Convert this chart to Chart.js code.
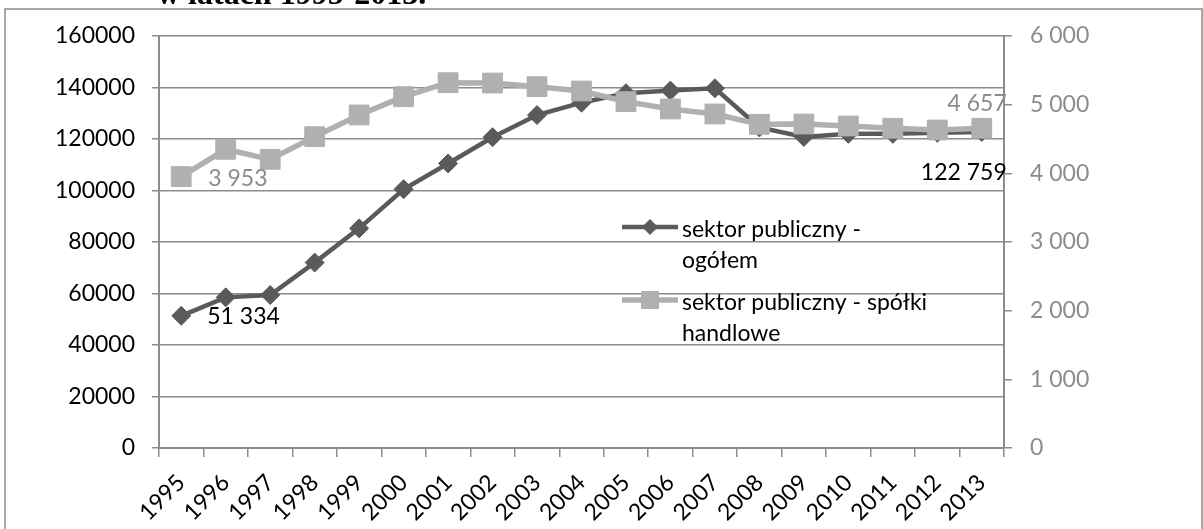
<!DOCTYPE html>
<html lang="pl">
<head>
<meta charset="utf-8">
<title>Zatrudnienie w sektorze publicznym</title>
<script src="https://cdn.jsdelivr.net/npm/chart.js@4.4.1/dist/chart.umd.min.js"></script>
<style>
    html, body { margin: 0; padding: 0; background: #fff; }
    #wrap { position: relative; width: 1203px; height: 529px; overflow: hidden; }
</style>
</head>
<body>
<div id="wrap"><canvas id="chart" width="1203" height="529"></canvas></div>
<script>
const years = ['1995', '1996', '1997', '1998', '1999', '2000', '2001', '2002', '2003', '2004',
    '2005', '2006', '2007', '2008', '2009', '2010', '2011', '2012', '2013'];

// lewa oś
const ogolem = [51334, 58500, 59400, 72000, 85300, 100500, 110500, 120700, 129300, 134100,
    137800, 138800, 139700, 124500, 120800, 122000, 122000, 122400, 122759];

// prawa oś
const spolki = [3953, 4350, 4204, 4534, 4850, 5116, 5320, 5315, 5262, 5199,
    5044, 4937, 4864, 4714, 4718, 4689, 4656, 4631, 4657];

const seriesNames = ['sektor publiczny - ogółem', 'sektor publiczny - spółki handlowe'];
const legendLines = [['sektor publiczny -', 'ogółem'], ['sektor publiczny - spółki', 'handlowe']];
const leftTicks = [0, 20000, 40000, 60000, 80000, 100000, 120000, 140000, 160000];
const rightTicks = [0, 1000, 2000, 3000, 4000, 5000, 6000];
const titleText = 'w latach 1995-2013.';

const DARK = '#5a5a5a';
const LIGHT = '#b0b0b0';
const AXIS = '#8c8c8c';
const FONT = 'Lato, "Open Sans", sans-serif';

const spaced = (v) => String(v).replace(/\B(?=(\d{3})+(?!\d))/g, ' ');

// etykiety danych przy wybranych punktach
const pointLabels = [
    { ds: 0, idx: 0, text: spaced(ogolem[0]), color: '#000', dx: 26, dy: 1, align: 'left' },
    { ds: 0, idx: ogolem.length - 1, text: spaced(ogolem[ogolem.length - 1]), color: '#000', dx: 25, dy: 41, align: 'right' },
    { ds: 1, idx: 0, text: spaced(spolki[0]), color: '#8c8c8c', dx: 27, dy: 2, align: 'left' },
    { ds: 1, idx: spolki.length - 1, text: spaced(spolki[spolki.length - 1]), color: '#8c8c8c', dx: 25, dy: -25, align: 'right' }
];

const framePlugin = {
    id: 'frame',
    beforeDraw(chart) {
        const ctx = chart.ctx;
        ctx.save();
        ctx.strokeStyle = AXIS;
        ctx.lineWidth = 1.5;
        ctx.strokeRect(5, 9, 1197, 560);
        ctx.fillStyle = '#000';
        ctx.font = 'bold 32px "Liberation Serif", "Times New Roman", serif';
        ctx.textBaseline = 'alphabetic';
        ctx.fillText(titleText, 157, 4);
        ctx.restore();
    }
};

const labelPlugin = {
    id: 'pointLabels',
    afterDatasetsDraw(chart) {
        const ctx = chart.ctx;
        ctx.save();
        ctx.font = '23px ' + FONT;
        ctx.textBaseline = 'middle';
        pointLabels.forEach(l => {
            const pt = chart.getDatasetMeta(l.ds).data[l.idx];
            ctx.fillStyle = l.color;
            ctx.textAlign = l.align;
            ctx.fillText(l.text, pt.x + l.dx, pt.y + l.dy);
        });
        ctx.restore();
    }
};

const legendPlugin = {
    id: 'sideLegend',
    afterDatasetsDraw(chart) {
        const ctx = chart.ctx;
        const rows = [227, 300];
        ctx.save();
        ctx.font = '23px ' + FONT;
        ctx.textBaseline = 'middle';
        ctx.textAlign = 'left';
        chart.data.datasets.forEach((ds, i) => {
            const y = rows[i];
            ctx.strokeStyle = ds.borderColor;
            ctx.lineWidth = ds.borderWidth;
            ctx.beginPath();
            ctx.moveTo(622, y);
            ctx.lineTo(678, y);
            ctx.stroke();
            ctx.fillStyle = ds.backgroundColor;
            ctx.strokeStyle = ds.borderColor;
            ctx.lineWidth = 1;
            Chart.helpers.drawPoint(ctx, {
                pointStyle: ds.pointStyle,
                radius: i === 0 ? 7.5 : 12,
                rotation: 0,
                borderWidth: 1
            }, 650, y);
            ctx.fillStyle = '#000';
            legendLines[i].forEach((line, k) => {
                ctx.fillText(line, 682, y + 3 + k * 31);
            });
        });
        ctx.restore();
    }
};

new Chart(document.getElementById('chart'), {
    type: 'line',
    data: {
        labels: years,
        datasets: [
            {
                label: seriesNames[0],
                data: ogolem,
                yAxisID: 'y',
                borderColor: DARK,
                backgroundColor: DARK,
                borderWidth: 4.5,
                pointStyle: 'rectRot',
                pointRadius: 9.5,
                pointBorderWidth: 1,
                tension: 0,
                order: 2
            },
            {
                label: seriesNames[1],
                data: spolki,
                yAxisID: 'y1',
                borderColor: LIGHT,
                backgroundColor: LIGHT,
                borderWidth: 5.5,
                pointStyle: 'rect',
                pointRadius: 14,
                pointBorderWidth: 1,
                tension: 0,
                order: 1
            }
        ]
    },
    options: {
        responsive: false,
        animation: false,
        events: [],
        layout: { padding: { top: 36, left: 0, right: 0, bottom: 0 } },
        plugins: {
            legend: { display: false },
            tooltip: { enabled: false }
        },
        scales: {
            x: {
                type: 'category',
                offset: true,
                afterFit: (s) => { s.height = 81; },
                grid: {
                    offset: true,
                    drawOnChartArea: false,
                    color: AXIS,
                    lineWidth: 1.5,
                    tickLength: 9
                },
                border: { color: AXIS, width: 2 },
                ticks: {
                    color: '#000',
                    font: { family: FONT, size: 23 },
                    minRotation: 45,
                    maxRotation: 45,
                    padding: 12,
                    autoSkip: false
                }
            },
            y: {
                position: 'left',
                min: 0,
                max: 160000,
                afterFit: (s) => { s.width = 159; },
                afterBuildTicks: (s) => { s.ticks = leftTicks.map(v => ({ value: v })); },
                grid: {
                    color: AXIS,
                    lineWidth: 1.5,
                    tickLength: 7
                },
                border: { color: AXIS, width: 2 },
                ticks: {
                    color: '#000',
                    font: { family: FONT, size: 23 },
                    padding: 17,
                    callback: (v) => String(v)
                }
            },
            y1: {
                position: 'right',
                min: 0,
                max: 6000,
                afterFit: (s) => { s.width = 199; },
                afterBuildTicks: (s) => { s.ticks = rightTicks.map(v => ({ value: v })); },
                grid: {
                    drawOnChartArea: false,
                    color: AXIS,
                    lineWidth: 1.5,
                    tickLength: 8
                },
                border: { color: AXIS, width: 2 },
                ticks: {
                    color: '#8c8c8c',
                    font: { family: FONT, size: 23 },
                    padding: 18,
                    callback: (v) => spaced(v)
                }
            }
        }
    },
    plugins: [framePlugin, labelPlugin, legendPlugin]
});
</script>
</body>
</html>
